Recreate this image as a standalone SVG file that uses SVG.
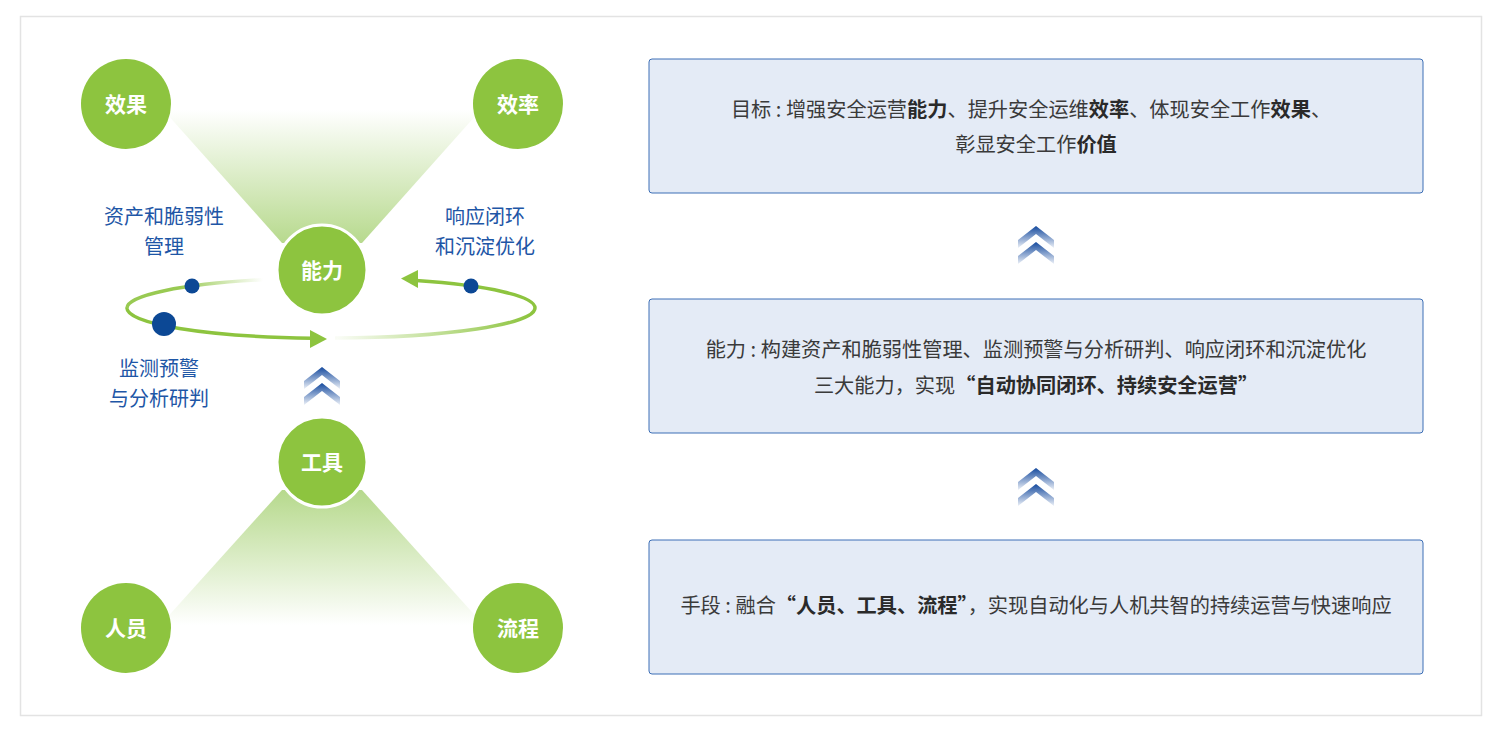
<svg xmlns="http://www.w3.org/2000/svg" width="1497" height="729" viewBox="0 0 1497 729">
<style>
.node circle{fill:#8dc43f}
.ring{stroke:#ffffff;stroke-width:3}
.nl{font-family:"Noto Sans CJK SC","Noto Sans",sans-serif;font-size:21px;font-weight:bold;fill:#ffffff;text-anchor:middle}
.bl{font-family:"Noto Sans CJK SC","Noto Sans",sans-serif;font-size:20px;fill:#1e56a6;text-anchor:middle}
.box rect{fill:#e4ebf6;stroke:#3d6fb6;stroke-width:1}
.bt{font-family:"Noto Sans CJK SC","Noto Sans",sans-serif;font-size:20.2px;fill:#3a3a3a;text-anchor:middle}
.b{font-weight:bold;fill:#2a2a2a}
.orb{fill:none;stroke-width:3.5}
.dot{fill:#0c4895}
</style>
<defs>
<linearGradient id="gTop" x1="0" y1="110" x2="0" y2="245" gradientUnits="userSpaceOnUse">
<stop offset="0" stop-color="#ffffff"/>
<stop offset="1" stop-color="#b6d98c"/>
</linearGradient>
<linearGradient id="gBot" x1="0" y1="490" x2="0" y2="625" gradientUnits="userSpaceOnUse">
<stop offset="0" stop-color="#b6d98c"/>
<stop offset="1" stop-color="#ffffff"/>
</linearGradient>
<linearGradient id="gUL" x1="263" y1="0" x2="180" y2="0" gradientUnits="userSpaceOnUse">
<stop offset="0" stop-color="#8dc43f" stop-opacity="0"/>
<stop offset="1" stop-color="#8dc43f" stop-opacity="0.9"/>
</linearGradient>
<linearGradient id="gLR" x1="338" y1="0" x2="530" y2="0" gradientUnits="userSpaceOnUse">
<stop offset="0" stop-color="#8dc43f" stop-opacity="0.05"/>
<stop offset="1" stop-color="#8dc43f" stop-opacity="1"/>
</linearGradient>
<linearGradient id="gChev" x1="0" y1="0" x2="0" y2="1">
<stop offset="0" stop-color="#154a9e"/>
<stop offset="1" stop-color="#154a9e" stop-opacity="0.08"/>
</linearGradient>
<polygon id="chev" points="0,0 18,14 18,22 0,8 -18,22 -18,14" fill="url(#gChev)"/>
<g id="dchev">
<use href="#chev"/>
<use href="#chev" y="16"/>
</g>
</defs>

<rect x="20.5" y="16.5" width="1461" height="699" fill="#ffffff" stroke="#e3e3e3" stroke-width="1.5"/>

<g id="funnels">
<polygon points="150,95 494,95 362,243 282,243" fill="url(#gTop)"/>
<polygon points="282,490 362,490 490,632 154,632" fill="url(#gBot)"/>
</g>

<g id="connectors">
<path class="orb" d="M263,279.7 A204,30 0 0,0 127,308" stroke="url(#gUL)"/>
<path class="orb" d="M127,308 A204,30 0 0,0 312,338.2" stroke="#8dc43f" stroke-width="4"/>
<polygon points="327,339 310,330 310,348" fill="#8dc43f"/>
<path class="orb" d="M335,338 A204,30 0 0,0 535,308" stroke="url(#gLR)"/>
<path class="orb" d="M535,308 A204,30 0 0,0 416,280.6" stroke="#8dc43f"/>
<polygon points="401,278.5 418,270 418,288" fill="#8dc43f"/>
<circle class="dot" cx="192" cy="286" r="7.5"/>
<circle class="dot" cx="471" cy="286" r="7.5"/>
<circle class="dot" cx="164" cy="324" r="12"/>
<use href="#dchev" x="322" y="367"/>
<use href="#dchev" x="1036" y="226"/>
<use href="#dchev" x="1036" y="468"/>
</g>

<g id="node-xiaoguo" class="node"><circle cx="126" cy="104" r="45"/><text class="nl" x="126" y="112">效果</text></g>
<g id="node-xiaolv" class="node"><circle cx="518" cy="104" r="45"/><text class="nl" x="518" y="112">效率</text></g>
<g id="node-nengli" class="node"><circle class="ring" cx="322" cy="270" r="45"/><text class="nl" x="322" y="278">能力</text></g>
<g id="node-gongju" class="node"><circle class="ring" cx="322" cy="462" r="45"/><text class="nl" x="322" y="470">工具</text></g>
<g id="node-renyuan" class="node"><circle cx="126" cy="628" r="45"/><text class="nl" x="126" y="636">人员</text></g>
<g id="node-liucheng" class="node"><circle cx="518" cy="628" r="45"/><text class="nl" x="518" y="636">流程</text></g>

<g id="labels">
<text class="bl" x="164" y="224">资产和脆弱性</text>
<text class="bl" x="164" y="254">管理</text>
<text class="bl" x="485" y="224">响应闭环</text>
<text class="bl" x="485" y="254">和沉淀优化</text>
<text class="bl" x="159" y="376">监测预警</text>
<text class="bl" x="159" y="406">与分析研判</text>
</g>

<g id="box-goal" class="box">
<rect x="649" y="59" width="774" height="134" rx="3"/>
<text class="bt" x="1031" y="117">目标 : 增强安全运营<tspan class="b">能力</tspan>、提升安全运维<tspan class="b">效率</tspan>、体现安全工作<tspan class="b">效果</tspan>、</text>
<text class="bt" x="1036" y="152">彰显安全工作<tspan class="b">价值</tspan></text>
</g>
<g id="box-ability" class="box">
<rect x="649" y="299" width="774" height="134" rx="3"/>
<text class="bt" x="1036" y="357">能力 : 构建资产和脆弱性管理、监测预警与分析研判、响应闭环和沉淀优化</text>
<text class="bt" x="1036" y="393">三大能力，实现<tspan class="b">“自动协同闭环、持续安全运营”</tspan></text>
</g>
<g id="box-means" class="box">
<rect x="649" y="540" width="774" height="134" rx="3"/>
<text class="bt" x="1036" y="613">手段 : 融合<tspan class="b">“人员、工具、流程”</tspan>，实现自动化与人机共智的持续运营与快速响应</text>
</g>
</svg>
